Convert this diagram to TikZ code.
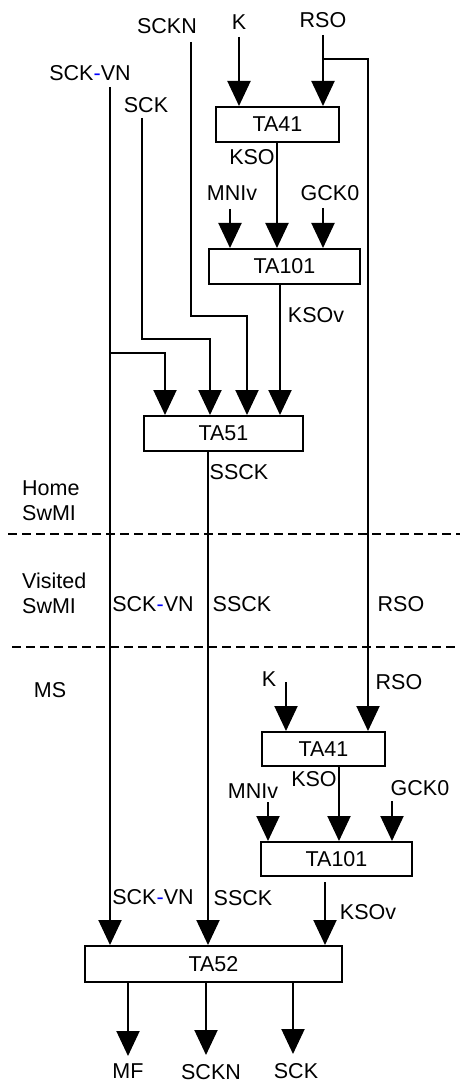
\documentclass[tikz,border=0pt]{standalone}
\usepackage{fontspec}
\setmainfont{Liberation Sans}
\usetikzlibrary{arrows.meta}

\begin{document}
\begin{tikzpicture}
                [x=1pt,y=-1pt,
                every node/.style={inner sep=0pt,font=\fontsize{21.5}{25}\selectfont},
                box/.style={draw,line width=2pt,minimum height=35pt},
                sig/.style={line width=2pt,-{Triangle[length=25pt,width=23pt]}},
                wire/.style={line width=2pt},
                zone/.style={line width=1.3pt,dash pattern=on 9pt off 5pt}]
                \useasboundingbox (0,0) rectangle (460,1083);
                \newcommand{\vn}{SCK{\color{blue}-}VN}
                % home swmi
                \node[box,minimum width=123pt] (ta41) at (277.5,124.5) {TA41};
                \node[box,minimum width=151pt] (ta101) at (284.5,266.5) {TA101};
                \node[box,minimum width=159pt] (ta51) at (223.5,433.5) {TA51};
                \node (lsckn) at (167,26) {SCKN};
                \node (lk) at (239,22) {K};
                \node (lrso) at (323,20) {RSO};
                \node (lvn) at (90,73) {\vn};
                \node (lsck) at (146,105) {SCK};
                \node (lkso) at (252,157) {KSO};
                \node (lmni) at (232,193) {MNIv};
                \node (lgck) at (330,193) {GCK0};
                \node (lksov) at (316,315) {KSOv};
                \node (lssck) at (239,472) {SSCK};
                \coordinate (kin) at (239,37);
                \coordinate (rsoin) at (323,35);
                \coordinate (rsobr) at (368,59);
                \coordinate (scknin) at (191,42);
                \coordinate (scknbr) at (247,316);
                \coordinate (sckin) at (142,118);
                \coordinate (sckbr) at (210,339);
                \coordinate (vnin) at (110,87);
                \coordinate (vnbr) at (165,353);
                \coordinate (mniin) at (230,209);
                \coordinate (gckin) at (323,208);
                \coordinate (ksox) at (277,142);
                \coordinate (ksovx) at (280,284);
                \coordinate (ssckx) at (208,451);
                \draw[sig] (kin) -- (kin |- ta41.north);
                \draw[sig] (rsoin) -- (rsoin |- ta41.north);
                \draw[sig] (ksox) -- (ksox |- ta101.north);
                \draw[sig] (mniin) -- (mniin |- ta101.north);
                \draw[sig] (gckin) -- (gckin |- ta101.north);
                \draw[sig] (ksovx) -- (ksovx |- ta51.north);
                \draw[sig] (scknin) |- (scknbr) -- (scknbr |- ta51.north);
                \draw[sig] (sckin) |- (sckbr) -- (sckbr |- ta51.north);
                \draw[sig] (vnin |- vnbr) -- (vnbr) -- (vnbr |- ta51.north);
                % zones
                \draw[zone] (8,534) -- (460,534);
                \draw[zone] (12,647) -- (455,647);
                \node[anchor=west,align=left] (lhome) at (22,501) {Home\\SwMI};
                \node[anchor=west,align=left] (lvisit) at (22,593) {Visited\\SwMI};
                \node (lms) at (50,690) {MS};
                \node (lvn2) at (153,604) {\vn};
                \node (lssck2) at (242,604) {SSCK};
                \node (lrso2) at (401,604) {RSO};
                % ms
                \node[box,minimum width=123pt,minimum height=34pt] (ta41b) at (323.5,749) {TA41};
                \node[box,minimum width=151pt,minimum height=34pt] (ta101b) at (336.5,859) {TA101};
                \node[box,minimum width=257pt,minimum height=36pt] (ta52) at (213.5,964) {TA52};
                \node (lkb) at (269,679) {K};
                \node (lrsob) at (399,682) {RSO};
                \node (lksob) at (314,779) {KSO};
                \node (lmnib) at (253,791) {MNIv};
                \node (lgckb) at (420,788) {GCK0};
                \node (lvnb) at (153,897) {\vn};
                \node (lssckb) at (243,898) {SSCK};
                \node (lksovb) at (368,912) {KSOv};
                \node (lmf) at (128,1071) {MF};
                \node (lscknb) at (211,1072) {SCKN};
                \node (lsckb) at (296,1071) {SCK};
                \coordinate (kbin) at (286,682);
                \coordinate (ksobx) at (339,766);
                \coordinate (mnibin) at (268,802);
                \coordinate (gckbin) at (392,801);
                \coordinate (ksovbx) at (325,882);
                \coordinate (mfx) at (128,1056);
                \coordinate (scknx) at (206,1055);
                \coordinate (sckx) at (293,1054);
                \draw[sig] (rsoin |- rsobr) -- (rsobr) -- (rsobr |- ta41b.north);
                \draw[sig] (vnin) -- (vnin |- ta52.north);
                \draw[sig] (ssckx) -- (ssckx |- ta52.north);
                \draw[sig] (kbin) -- (kbin |- ta41b.north);
                \draw[sig] (ksobx) -- (ksobx |- ta101b.north);
                \draw[sig] (mnibin) -- (mnibin |- ta101b.north);
                \draw[sig] (gckbin) -- (gckbin |- ta101b.north);
                \draw[sig] (ksovbx) -- (ksovbx |- ta52.north);
                \draw[sig] (mfx |- ta52.south) -- (mfx);
                \draw[sig] (scknx |- ta52.south) -- (scknx);
                \draw[sig] (sckx |- ta52.south) -- (sckx);
            \end{tikzpicture}
\end{document}
